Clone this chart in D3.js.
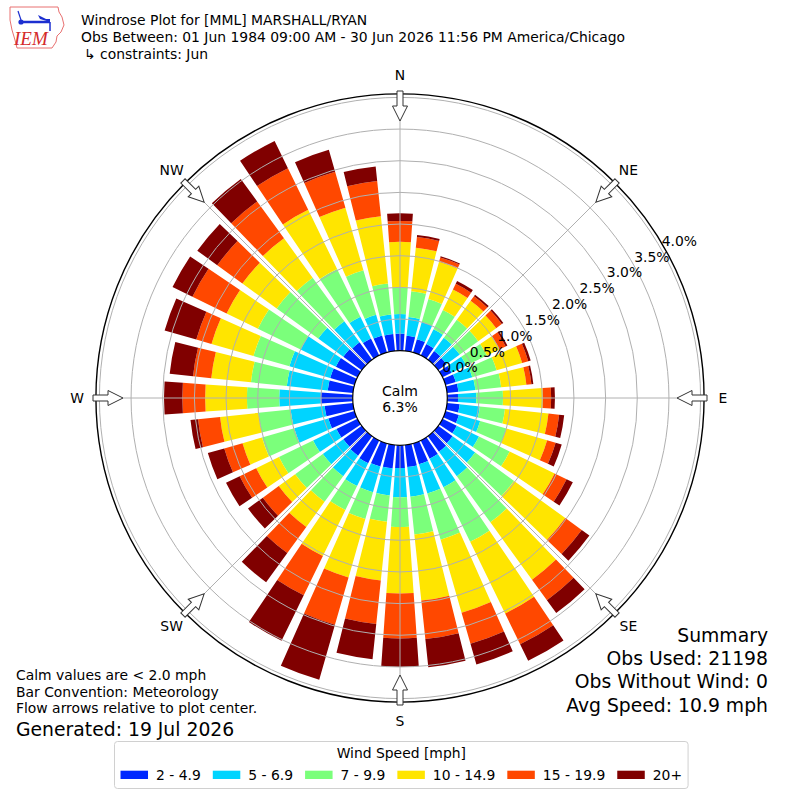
<!DOCTYPE html>
<html>
<head>
<meta charset="utf-8">
<script src="https://cdn.jsdelivr.net/npm/d3@7"></script>
<style>
  body { margin: 0; background: #fff; }
  svg text { font-family: "DejaVu Sans", sans-serif; fill: #000; }
</style>
</head>
<body>
<div id="chart"></div>
<script>
// Windrose plot, MML Marshall/Ryan, June

// Part I. Data (percent of obs per direction and speed bin)
var directions = [0, 10, 20, 30, 40, 50, 60, 70, 80, 90, 100, 110, 120, 130, 140, 150, 160, 170,
                  180, 190, 200, 210, 220, 230, 240, 250, 260, 270, 280, 290, 300, 310, 320, 330, 340, 350];
var speedBins = ["2 - 4.9", "5 - 6.9", "7 - 9.9", "10 - 14.9", "15 - 19.9", "20+"];
var binColors = ["#0028ff", "#00d4ff", "#7bff7b", "#ffe500", "#ff4800", "#800000"];

var s2to5   = [0.27,0.24,0.22,0.20,0.17,0.16,0.16,0.17,0.18,0.17,0.20,0.22,0.25,0.28,0.30,0.32,0.34,0.35,
               0.36,0.37,0.38,0.40,0.38,0.36,0.37,0.43,0.45,0.51,0.40,0.40,0.38,0.36,0.34,0.30,0.28,0.27];
var s5to7   = [0.31,0.30,0.28,0.26,0.26,0.26,0.26,0.27,0.27,0.29,0.32,0.35,0.39,0.44,0.48,0.50,0.48,0.47,
               0.46,0.43,0.42,0.40,0.40,0.40,0.41,0.56,0.54,0.65,0.65,0.67,0.62,0.49,0.41,0.38,0.34,0.31];
var s7to10  = [0.42,0.41,0.38,0.34,0.35,0.36,0.36,0.40,0.41,0.42,0.40,0.43,0.54,0.76,0.90,0.96,0.76,0.60,
               0.47,0.42,0.44,0.42,0.50,0.54,0.60,0.53,0.51,0.51,0.57,0.59,0.75,0.81,0.85,0.84,0.73,0.49];
var s10to15 = [0.72,0.69,0.61,0.36,0.37,0.35,0.22,0.42,0.40,0.63,0.69,0.67,0.79,1.00,1.12,1.26,1.20,1.05,
               1.05,0.93,0.96,0.81,0.49,0.32,0.40,0.32,0.61,0.66,0.63,0.69,0.55,0.67,0.77,1.04,1.03,1.07];
var s15to20 = [0.33,0.17,0.07,0.10,0.09,0.11,0.11,0.10,0.08,0.13,0.17,0.14,0.21,0.32,0.40,0.54,0.51,0.61,
               0.71,0.69,0.78,0.69,0.51,0.31,0.29,0.30,0.35,0.36,0.29,0.25,0.60,0.49,0.72,0.73,0.59,0.56];
var s20up   = [0.12,0.03,0.02,0.05,0.03,0.03,0.03,0.04,0.03,0.06,0.08,0.10,0.11,0.15,0.25,0.29,0.34,0.45,
               0.45,0.56,0.90,0.80,0.57,0.29,0.24,0.27,0.12,0.29,0.37,0.52,0.35,0.39,0.44,0.48,0.36,0.23];

var rTicks = [0, 0.5, 1.0, 1.5, 2.0, 2.5, 3.0, 3.5, 4.0];
var compassLabels = ["N", "NE", "E", "SE", "S", "SW", "W", "NW"];
var compassAngles = [0, 45, 90, 135, 180, 225, 270, 315];
var calmText = ["Calm", "6.3%"];

var titleLines = ["Windrose Plot for [MML] MARSHALL/RYAN",
                  "Obs Between: 01 Jun 1984 09:00 AM - 30 Jun 2026 11:56 PM America/Chicago",
                  "\u21b3 constraints: Jun"];
var noteLines = ["Calm values are < 2.0 mph", "Bar Convention: Meteorology", "Flow arrows relative to plot center."];
var generatedText = "Generated: 19 Jul 2026";
var summaryLines = ["Summary", "Obs Used: 21198", "Obs Without Wind: 0", "Avg Speed: 10.9 mph"];

// Part II. Chart setup
var cx = 400, cy = 398;
var frameMax = 4.055;
var rad = Math.PI / 180;
var barHalf = 4 * rad;

var svg = d3.select("#chart")
    .append("svg")
    .attr("width", 800)
    .attr("height", 800);

var rScale = d3.scaleLinear()
    .domain([0, 4])
    .range([47.3, 300.6]);

var rows = directions.map(function(d, i) {
    return {dir: d, b0: s2to5[i], b1: s5to7[i], b2: s7to10[i], b3: s10to15[i], b4: s15to20[i], b5: s20up[i]};
});
var keys = ["b0", "b1", "b2", "b3", "b4", "b5"];
var stacked = d3.stack().keys(keys)(rows);

var chartGroup = svg.append("g")
    .attr("transform", "translate(" + cx + "," + cy + ")");

var arc = d3.arc()
    .innerRadius(d => rScale(d[0]))
    .outerRadius(d => rScale(d[1]))
    .startAngle(d => d.data.dir * rad - barHalf)
    .endAngle(d => d.data.dir * rad + barHalf);

// bars
stacked.forEach(function(layer, i) {
    chartGroup.append("g")
        .attr("class", "layer")
        .selectAll("path")
        .data(layer)
        .enter()
        .append("path")
        .attr("d", arc)
        .attr("fill", binColors[i]);
});

// grid on top of bars
chartGroup.selectAll(".ring")
    .data(rTicks.slice(1))
    .enter()
    .append("circle")
    .attr("class", "ring")
    .attr("r", d => rScale(d))
    .attr("fill", "none")
    .attr("stroke", "#b0b0b0")
    .attr("stroke-width", 1);

chartGroup.selectAll(".spoke")
    .data(compassAngles)
    .enter()
    .append("line")
    .attr("class", "spoke")
    .attr("x1", d => rScale(0) * Math.sin(d * rad))
    .attr("y1", d => -rScale(0) * Math.cos(d * rad))
    .attr("x2", d => rScale(frameMax) * Math.sin(d * rad))
    .attr("y2", d => -rScale(frameMax) * Math.cos(d * rad))
    .attr("stroke", "#b0b0b0")
    .attr("stroke-width", 1);

// frame
chartGroup.append("circle")
    .attr("r", rScale(frameMax))
    .attr("fill", "none")
    .attr("stroke", "#000")
    .attr("stroke-width", 1.4);

// calm hole
chartGroup.append("circle")
    .attr("r", rScale(0))
    .attr("fill", "#fff")
    .attr("stroke", "#000")
    .attr("stroke-width", 1.2);

chartGroup.selectAll(".calm")
    .data(calmText)
    .enter()
    .append("text")
    .attr("class", "calm")
    .attr("x", 0)
    .attr("y", (d, i) => -2 + i * 16)
    .attr("text-anchor", "middle")
    .attr("font-size", "14px")
    .text(d => d);

// radial labels along 60 deg
chartGroup.selectAll(".rlabel")
    .data(rTicks)
    .enter()
    .append("text")
    .attr("class", "rlabel")
    .attr("x", d => rScale(d) * Math.sin(60 * rad) + 19)
    .attr("y", d => -rScale(d) * Math.cos(60 * rad) - 7)
    .attr("text-anchor", "middle")
    .attr("dominant-baseline", "central")
    .attr("font-size", "13.9px")
    .text(d => d.toFixed(1) + "%");

// flow arrows at compass points
var arrowPts = [[-3, -307], [3, -307], [3, -292], [7.5, -292], [0, -277], [-7.5, -292], [-3, -292]];
chartGroup.selectAll(".arrow")
    .data(compassAngles)
    .enter()
    .append("polygon")
    .attr("class", "arrow")
    .attr("points", arrowPts.map(p => p.join(",")).join(" "))
    .attr("transform", d => "rotate(" + d + ")")
    .attr("fill", "#fff")
    .attr("stroke", "#333")
    .attr("stroke-width", 1);

chartGroup.selectAll(".compass")
    .data(compassLabels)
    .enter()
    .append("text")
    .attr("class", "compass")
    .attr("x", (d, i) => 323 * Math.sin(compassAngles[i] * rad))
    .attr("y", (d, i) => -323 * Math.cos(compassAngles[i] * rad))
    .attr("text-anchor", "middle")
    .attr("dominant-baseline", "central")
    .attr("font-size", "13.9px")
    .text(d => d);

// Part III. Header, notes, summary, legend
var logo = svg.append("g").attr("class", "logo");
logo.append("path")
    .attr("d", "M10,7 L58,7 L59,12 L62,17 L64,25 L61,32 L57,36 L56,42 L52,48 L17,48 L15,40 L12,30 L10,20 Z")
    .attr("fill", "none")
    .attr("stroke", "#e87070")
    .attr("stroke-width", 1);
logo.append("line").attr("x1", 21).attr("y1", 22).attr("x2", 50).attr("y2", 22)
    .attr("stroke", "#1c2fd0").attr("stroke-width", 2.5);
logo.append("circle").attr("cx", 21).attr("cy", 22).attr("r", 2.6).attr("fill", "#1c2fd0");
logo.append("line").attr("x1", 21).attr("y1", 20).attr("x2", 18).attr("y2", 11)
    .attr("stroke", "#1c2fd0").attr("stroke-width", 1.2);
logo.append("path").attr("d", "M38,15 L46,19 L50,19 L50,22 L40,19 Z").attr("fill", "#1c2fd0");
logo.append("line").attr("x1", 50).attr("y1", 22).attr("x2", 50).attr("y2", 31)
    .attr("stroke", "#1c2fd0").attr("stroke-width", 1.5);
logo.append("text")
    .attr("x", 14).attr("y", 45)
    .attr("font-family", "Liberation Serif, serif")
    .style("font-family", "'Liberation Serif', serif")
    .attr("font-style", "italic")
    .attr("font-size", "19px")
    .style("fill", "#d42a2a")
    .text("IEM");

svg.selectAll(".title")
    .data(titleLines)
    .enter()
    .append("text")
    .attr("class", "title")
    .attr("x", (d, i) => i == 2 ? 84 : 81)
    .attr("y", (d, i) => 25 + i * 16.8)
    .attr("font-size", "13.9px")
    .text(d => d);

svg.selectAll(".note")
    .data(noteLines)
    .enter()
    .append("text")
    .attr("class", "note")
    .attr("x", 16)
    .attr("y", (d, i) => 680 + i * 16.6)
    .attr("font-size", "13.9px")
    .text(d => d);

svg.append("text")
    .attr("x", 16)
    .attr("y", 735.5)
    .attr("font-size", "18.8px")
    .text(generatedText);

svg.selectAll(".summary")
    .data(summaryLines)
    .enter()
    .append("text")
    .attr("class", "summary")
    .attr("x", 768)
    .attr("y", (d, i) => 641.7 + i * 23.3)
    .attr("text-anchor", "end")
    .attr("font-size", "18.8px")
    .text(d => d);

// legend
var legend = svg.append("g").attr("class", "legend");
var legendBox = legend.append("rect")
    .attr("y", 741.5)
    .attr("height", 47)
    .attr("rx", 3)
    .attr("fill", "#fff")
    .attr("stroke", "#d0d0d0")
    .attr("stroke-width", 1);
var legendTitle = legend.append("text")
    .attr("y", 757.5)
    .attr("text-anchor", "middle")
    .attr("font-size", "13.9px")
    .text("Wind Speed [mph]");

var handleW = 27.5, handlePad = 8, colGap = 12, boxPad = 6;
var items = legend.selectAll(".item")
    .data(speedBins)
    .enter()
    .append("g")
    .attr("class", "item");
items.append("rect")
    .attr("width", handleW)
    .attr("height", 8.3)
    .attr("y", 770.7)
    .attr("fill", (d, i) => binColors[i]);
items.append("text")
    .attr("x", handleW + handlePad)
    .attr("y", 780)
    .attr("font-size", "13.9px")
    .text(d => d);

var widths = [];
items.select("text").each(function() { widths.push(this.getComputedTextLength()); });
var total = d3.sum(widths) + speedBins.length * (handleW + handlePad) + (speedBins.length - 1) * colGap;
var legendCenter = 401.3;
var x0 = legendCenter - total / 2;
var xs = [];
widths.forEach(function(w, i) {
    xs.push(x0);
    x0 += handleW + handlePad + w + colGap;
});
items.attr("transform", (d, i) => "translate(" + xs[i] + ",0)");
legendBox.attr("x", legendCenter - total / 2 - boxPad).attr("width", total + 2 * boxPad);
legendTitle.attr("x", legendCenter);
</script>
</body>
</html>
